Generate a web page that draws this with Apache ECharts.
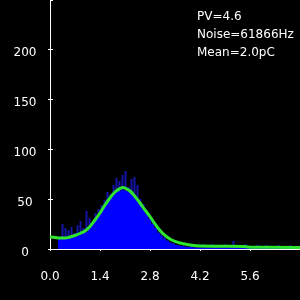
<!DOCTYPE html>
<html><head><meta charset="utf-8">
<script src="https://cdn.jsdelivr.net/npm/echarts@6/dist/echarts.min.js"></script>
<style>html,body{margin:0;padding:0;background:#000;}#c{width:300px;height:300px;}</style>
</head><body><div id="c"></div>
<script>
// histogram bins (charge, pC)
const binStart = 0.224;
const binWidth = 0.084;
const bodyCounts = [10,10,11,11,11,12,13,14,16,17,20,24,29,33,38,43,47,51,55,57,58,59,58,57,55,52,48,44,39,35,30,25,21,16,13,10,8,6,5,4,3,3,2,2,2,1,1,1,1,1,1,1,1,1,1,1,1,1,1,1,1,1,1,1,1,1,1,1,1,1,1,1,1,1,1,1,1,1,1,1];
const spikeCounts = [12,25,21,19,22,16,24,28,21,38,31,27,36,40,44,49,57,55,64,71,68,74,78,62,70,72,64,50,45,38,33,28,22,18,17,12,9,7,6,4,4,3,3,2,3,2,3,2,5,2,2,5,2,3,2,5,2,2,8,2,3,2,5,2,3,2,4,2,3,4,2,3,2,4,2,3,2,4,2,3];
// fitted curve
const fitX = [0,0.14,0.28,0.42,0.56,0.70,0.84,0.98,1.12,1.26,1.40,1.54,1.68,1.82,1.96,2.04,2.10,2.24,2.38,2.52,2.66,2.80,2.94,3.08,3.22,3.36,3.50,3.64,3.78,3.92,4.20,4.76,5.40,5.60,7.00];
const fitY = [12,11.5,11,11,12,13.5,15.5,18,22.5,29,36,44,51,57,60.5,61.5,61,58,52.5,46,39,32.5,25,18.5,13.6,10,7.6,6,5,4,3,2.8,2.6,1.8,1.6];
// axes
const xMin = 0, xMax = 7, xStep = 1.4;
const yMin = 0, yMax = 249, yStep = 50;
const statLines = ['PV=4.6', 'Noise=61866Hz', 'Mean=2.0pC'];

const font = 'DejaVu Sans';
const centers = bodyCounts.map((_, i) => binStart + binWidth * (i + 0.5));
const bodyData = bodyCounts.map((v, i) => [centers[i], v]);
const spikeData = spikeCounts.map((v, i) => [centers[i], v]);
const fitData = fitX.map((x, i) => [x, fitY[i]]);

const baseX = {type:'value', min:xMin, max:xMax, interval:xStep, position:'bottom', splitLine:{show:false}};
const baseY = {type:'value', min:yMin, max:yMax, interval:yStep, position:'left', splitLine:{show:false}};

const chart = echarts.init(document.getElementById('c'), null, {renderer:'canvas'});
chart.setOption({
  backgroundColor:'#000',
  animation:false,
  grid:{left:50, right:0, top:0, height:249, outerBoundsMode:'none', containLabel:false},
  xAxis:[
    Object.assign({}, baseX, {
      axisLine:{show:true, lineStyle:{color:'#fff', width:1}},
      axisTick:{show:true, length:2, lineStyle:{color:'#fff'}},
      axisLabel:{show:true, color:'#fff', fontFamily:font, fontSize:12, margin:22, showMaxLabel:false,
        formatter:v => v.toFixed(1)}
    }),
    Object.assign({}, baseX, {
      axisLine:{show:false}, axisLabel:{show:false},
      axisTick:{show:true, inside:true, length:2, lineStyle:{color:'#fff'}}
    }),
    Object.assign({}, baseX, {show:false}),
    Object.assign({}, baseX, {show:false})
  ],
  yAxis:[
    Object.assign({}, baseY, {
      axisLine:{show:true, lineStyle:{color:'#fff', width:1}},
      axisTick:{show:true, length:2, lineStyle:{color:'#fff'}},
      axisLabel:{show:true, color:'#fff', fontFamily:font, fontSize:12, margin:25, align:'center',
        showMaxLabel:false, formatter:v => '{a|' + v + '}',
        rich:{a:{color:'#fff', fontFamily:font, fontSize:12, padding:[7,0,0,0]}}}
    }),
    Object.assign({}, baseY, {
      axisLine:{show:false}, axisLabel:{show:false},
      axisTick:{show:true, inside:true, length:3, lineStyle:{color:'#fff'}}
    })
  ],
  series:[
    {type:'bar', xAxisIndex:2, yAxisIndex:0, data:spikeData, barWidth:2,
      itemStyle:{color:'#1414a8'}, z:2, silent:true},
    {type:'bar', xAxisIndex:3, yAxisIndex:0, data:bodyData, barWidth:3,
      itemStyle:{color:'#0000ff'}, z:3, silent:true},
    {type:'line', xAxisIndex:0, yAxisIndex:0, data:fitData, smooth:0.4, showSymbol:false,
      lineStyle:{color:'#2ee62e', width:3}, z:4, silent:true}
  ],
  graphic:statLines.map((t, i) => ({
    type:'text', left:197, top:10.5 + i*18.2, z:10,
    style:{text:t, fill:'#fff', font:'12px "DejaVu Sans"'}
  }))
});
</script></body></html>
